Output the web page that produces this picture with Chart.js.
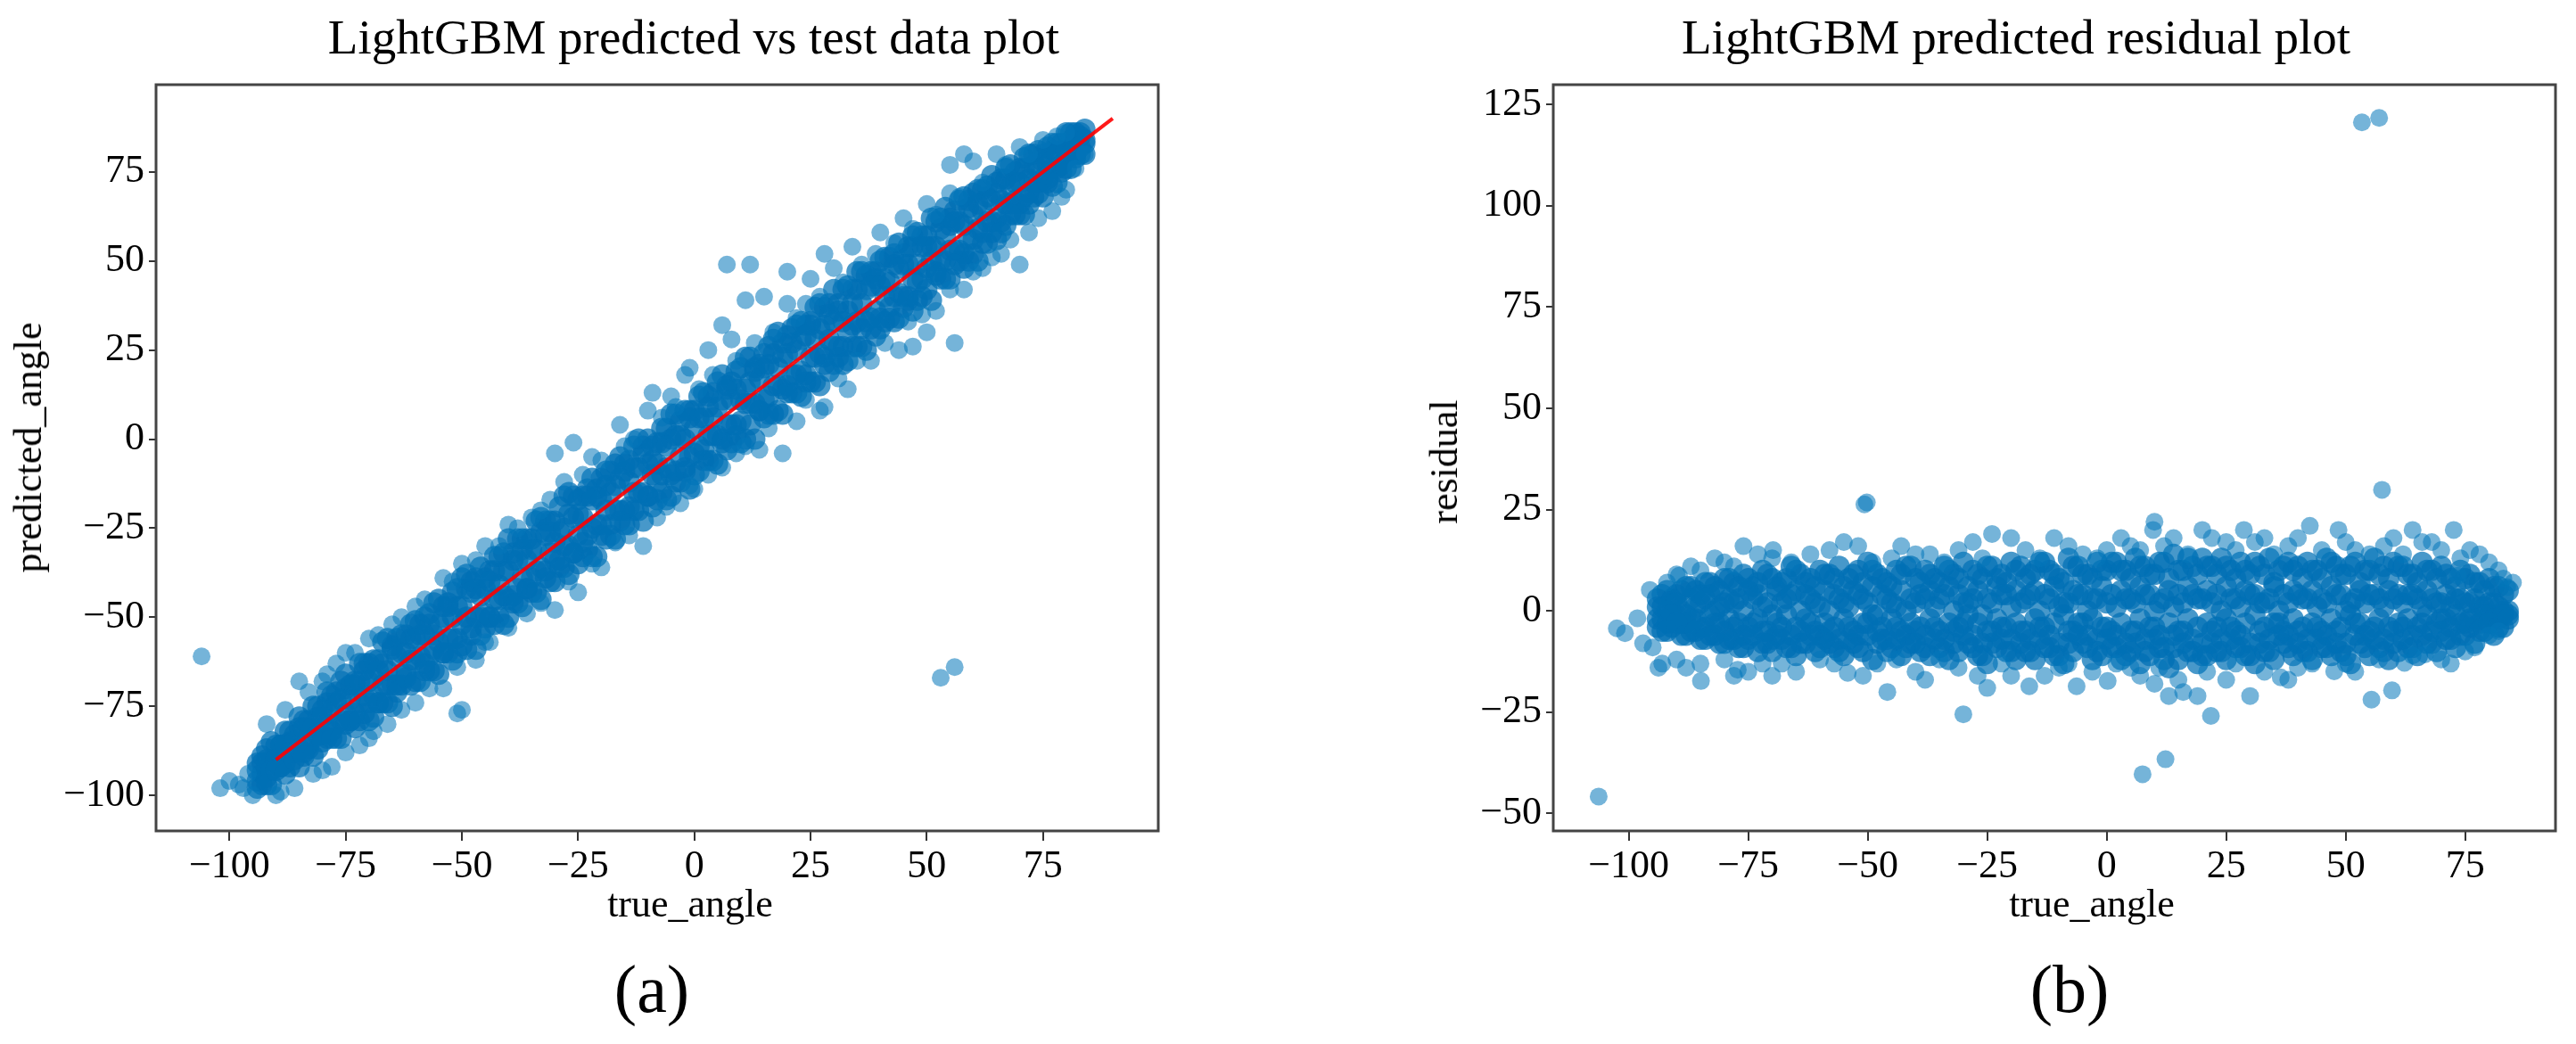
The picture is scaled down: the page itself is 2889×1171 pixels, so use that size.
<!DOCTYPE html>
<html><head><meta charset="utf-8">
<script src="https://cdn.jsdelivr.net/npm/chart.js@4.4.1/dist/chart.umd.min.js"></script>
<style>
html,body{margin:0;padding:0;background:#fff;}
#wrap{position:relative;width:2889px;height:1171px;overflow:hidden;background:#fff;font-family:'Liberation Serif','Times New Roman',serif;color:#000;}
canvas{position:absolute;top:0;}
.t{position:absolute;white-space:nowrap;line-height:1;transform:translateX(-50%);}
.r{position:absolute;white-space:nowrap;line-height:1;transform:translate(-50%,-50%) rotate(-90deg);}
</style></head><body>
<div id="wrap">
<canvas id="ca" width="1440" height="1171" style="left:0;width:1440px;height:1171px"></canvas>
<canvas id="cb" width="1449" height="1171" style="left:1440px;width:1449px;height:1171px"></canvas>
<div class="t" style="left:778px;top:14px;font-size:55px">LightGBM predicted vs test data plot</div>
<div class="t" style="left:2261px;top:14px;font-size:55px">LightGBM predicted residual plot</div>
<div class="t" style="left:774px;top:992px;font-size:44px">true_angle</div>
<div class="t" style="left:2346px;top:992px;font-size:44px">true_angle</div>
<div class="r" style="left:32px;top:502px;font-size:44px">predicted_angle</div>
<div class="r" style="left:1620px;top:518px;font-size:44px">residual</div>
<div class="t" style="left:731px;top:1071px;font-size:76px">(a)</div>
<div class="t" style="left:2321px;top:1071px;font-size:76px">(b)</div>
</div>
<script>
// ---------- shared true-angle grids (core of the dense bands) ----------
const coreTrueEven = [-94,-92,-90,-88,-86,-84,-82,-80,-78,-76,-74,-72,-70,-68,-66,-64,-62,-60,-58,-56,-54,-52,-50,-48,-46,-44,-42,-40,-38,-36,-34,-32,-30,-28,-26,-24,-22,-20,-18,-16,-14,-12,-10,-8,-6,-4,-2,0,2,4,6,8,10,12,14,16,18,20,22,24,26,28,30,32,34,36,38,40,42,44,46,48,50,52,54,56,58,60,62,64,66,68,70,72,74,76,78,80,82,84];
const coreTrueOdd = [-93,-91,-89,-87,-85,-83,-81,-79,-77,-75,-73,-71,-69,-67,-65,-63,-61,-59,-57,-55,-53,-51,-49,-47,-45,-43,-41,-39,-37,-35,-33,-31,-29,-27,-25,-23,-21,-19,-17,-15,-13,-11,-9,-7,-5,-3,-1,1,3,5,7,9,11,13,15,17,19,21,23,25,27,29,31,33,35,37,39,41,43,45,47,49,51,53,55,57,59,61,63,65,67,69,71,73,75,77,79,81,83];

// ---------- (a) predicted vs true ----------
const aPredRow1 = [-98,-97,-93,-94,-90,-89,-89,-85,-84,-84,-79,-79,-79,-74,-74,-71,-67,-68,-65,-65,-60,-62,-58,-55,-55,-50,-50,-50,-46,-42,-43,-39,-40,-36,-32,-33,-33,-27,-27,-23,-24,-20,-16,-17,-17,-12,-9,-10,-6,-6,-1,-1,-1,4,8,7,8,13,13,16,16,21,21,21,26,26,31,31,34,34,39,39,42,46,45,49,48,52,55,58,58,63,63,66,69,72,72,76,79,80];
const aPredRow3 = [-93,-90,-90,-86,-85,-81,-81,-78,-76,-73,-73,-68,-68,-65,-65,-61,-60,-56,-55,-55,-50,-50,-47,-43,-44,-40,-41,-37,-34,-34,-31,-27,-29,-25,-22,-22,-17,-17,-15,-11,-12,-8,-7,-7,-2,1,0,3,6,6,11,11,11,16,17,21,20,24,25,29,28,32,33,33,38,38,43,43,44,48,49,49,54,54,57,61,60,63,64,67,67,71,72,73,76,77,80,81,83,84];
const aPredRow5 = [-96,-95,-91,-91,-88,-88,-84,-83,-82,-79,-79,-74,-74,-74,-69,-69,-66,-62,-63,-59,-60,-56,-52,-53,-50,-50,-45,-45,-42,-42,-37,-37,-34,-30,-32,-29,-25,-24,-24,-20,-19,-15,-16,-12,-8,-9,-8,-4,-3,1,0,4,5,10,8,12,15,15,18,18,23,23,26,26,32,31,34,34,37,41,40,44,48,47,50,53,52,56,58,61,61,66,66,69,72,73,76,79,80,83];
const aPredRow7 = [-91,-87,-86,-82,-83,-79,-75,-76,-72,-68,-69,-63,-63,-62,-56,-56,-55,-51,-50,-46,-47,-43,-39,-40,-36,-37,-33,-28,-28,-28,-23,-23,-23,-16,-16,-16,-11,-11,-9,-5,-6,0,0,-1,3,7,8,8,13,13,18,16,20,23,21,26,30,29,32,32,37,37,42,42,42,47,47,50,51,55,54,58,57,61,65,64,68,69,70,74,73,77,76,80,81,82,83,86,86,87];
const aPredRow2 = [-94,-93,-92,-88,-87,-86,-83,-80,-80,-77,-77,-72,-72,-69,-69,-66,-62,-61,-61,-57,-56,-56,-50,-50,-49,-45,-44,-44,-39,-39,-36,-32,-34,-30,-27,-27,-24,-20,-20,-20,-15,-15,-10,-10,-10,-5,-5,-2,1,1,4,4,10,10,11,15,14,18,19,23,24,28,26,30,33,33,36,40,40,40,45,45,50,50,53,53,56,59,61,62,66,67,68,72,73,76,77,80,82];
const aPredRow4 = [-89,-85,-86,-82,-78,-79,-75,-71,-71,-66,-68,-63,-62,-57,-59,-55,-52,-52,-49,-45,-46,-42,-38,-39,-39,-33,-32,-32,-28,-28,-22,-23,-19,-15,-17,-14,-14,-9,-7,-7,-2,-2,-2,3,7,5,8,12,12,16,15,19,23,20,24,28,27,31,33,33,38,38,38,43,47,46,47,51,52,52,57,57,62,62,62,67,67,70,71,72,76,75,79,80,80,83,83,86,86];
const aPredRow6 = [-91,-90,-86,-85,-81,-81,-78,-74,-74,-70,-69,-65,-67,-63,-58,-60,-56,-55,-52,-52,-47,-47,-42,-42,-42,-37,-37,-34,-31,-31,-26,-26,-26,-21,-21,-16,-16,-13,-13,-9,-8,-4,-6,-1,0,1,6,6,9,9,14,14,14,19,20,24,23,27,28,32,31,35,36,36,42,42,45,45,49,49,54,54,54,59,60,61,65,66,68,69,73,72,76,77,78,81,81,84,85];
const aPredRow8 = [-97,-97,-92,-92,-92,-87,-87,-84,-84,-80,-81,-77,-78,-74,-75,-69,-69,-68,-65,-66,-60,-60,-59,-59,-53,-52,-52,-46,-47,-43,-45,-40,-36,-38,-35,-31,-33,-28,-28,-24,-20,-23,-19,-15,-16,-12,-14,-9,-6,-7,-3,1,0,0,6,7,7,13,12,16,15,19,23,22,26,25,29,33,33,37,36,40,39,45,45,50,50,50,55,56,60,63,63,68,68,71,75,76,80];
const aScatTrue = [-106,53,56,7,12,20,56,58,55,-51,-50,-70,-102,-98,-95,-100,-97,-89,-96,
  -92,-85,-80,-77,-75,-70,-65,-60,-54,-50,-45,-40,-35,-30,-26,-28,-22,-16,-15,-9,-10,-5,-1,-2,3,6,11,8,15,20,25,28,34,30,40,45,50,55,60,65,70,75,80,
  -90,-82,-78,-72,-66,-60,-54,-47,-45,-40,-30,-25,-20,-11,-8,-3,0,6,14,19,22,27,28,33,38,44,47,50,52,58,62,66,70,72,77,80,82,84];
const aScatPred = [-61,-67,-64,49,49,47,27,80,77,-77,-76,-84,-98,-97,-100,-96,-98,-99,-94,
  -80,-68,-68,-63,-60,-56,-52,-47,-39,-35,-30,-24,-22,-4,-1,-12,-5,4,-2,13,8,12,20,18,25,32,39,28,40,38,45,52,54,48,58,62,66,69,78,80,82,84,86,
  -100,-94,-92,-86,-80,-74,-70,-62,-57,-53,-48,-43,-36,-30,-22,-18,-14,-8,-3,-4,5,8,9,14,22,25,26,30,36,42,48,52,49,58,64,70,76,80];
const aHaloTrue = [-88,-83,-79,-73,-68,-63,-58,-52,-47,-42,-38,-33,-31,-24,-20,-13,-7,-4,1,4,9,13,17,22,24,27,32,36,39,43,47,52,57,62,67,72,78,
  -86,-80,-75,-69,-63,-57,-51,-44,-36,-33,-27,-22,-17,-14,-6,-1,3,9,11,16,24,31,35,41,46,49,55,60,64,68,74,79];
const aHaloPred = [-76,-71,-66,-60,-55,-50,-45,-40,-34,-30,-25,-20,-17,-10,-6,0,6,9,14,18,22,27,30,34,38,40,44,49,52,55,59,63,68,72,77,80,85,
  -98,-93,-88,-82,-76,-70,-64,-57,-49,-46,-40,-35,-29,-27,-19,-13,-10,-4,-2,3,11,17,22,27,33,35,42,47,51,56,62,68];
const idealX = [-90, 90];
const idealY = [-90, 90];

// ---------- (b) residual vs true ----------
const bResRow1 = [-4,-5,-3,-6,-5,-7,-6,-8,-7,-9,-6,-8,-10,-7,-9,-8,-6,-9,-8,-10,-7,-9,-6,-8,-10,-7,-9,-8,-9,-7,-10,-8,-6,-9,-11,-8,-7,-10,-8,-10,-7,-9,-11,-8,-6,-9,-10,-7,-9,-11,-8,-10,-7,-12,-9,-8,-10,-11,-8,-10,-7,-9,-11,-8,-10,-6,-9,-8,-10,-7,-9,-8,-11,-6,-9,-7,-10,-8,-7,-9,-6,-8,-5,-7,-6,-4,-5,-3,-4,-2];
const bResRow3 = [1,0,2,-1,1,3,0,2,2,0,3,1,-1,2,4,0,3,1,0,3,1,4,2,-1,3,1,0,2,3,1,4,0,2,3,-1,2,4,1,2,4,0,3,1,2,4,0,3,2,1,3,2,4,0,3,1,2,4,3,2,0,3,1,4,2,3,0,2,4,3,1,2,4,0,3,2,4,1,3,2,4,1,3,2,1,3,2,1,2,1,0];
const bResRow5 = [-2,-3,-1,-3,-2,-4,-3,-5,-4,-6,-3,-5,-7,-4,-6,-5,-3,-6,-5,-7,-4,-6,-3,-5,-7,-4,-6,-5,-6,-4,-7,-5,-3,-6,-8,-5,-4,-7,-5,-7,-4,-6,-8,-5,-3,-6,-7,-4,-6,-8,-5,-7,-4,-9,-6,-5,-7,-8,-5,-7,-4,-6,-8,-5,-7,-3,-6,-5,-7,-4,-6,-5,-8,-3,-6,-4,-7,-5,-4,-6,-3,-5,-2,-4,-3,-2,-3,-1,-2,-1];
const bResRow7 = [3,5,4,6,5,7,6,8,7,9,6,10,8,7,11,9,8,10,9,11,8,10,12,9,7,10,11,8,10,8,11,9,12,10,8,11,9,12,11,9,12,10,8,13,11,9,12,10,12,10,13,11,9,12,14,10,11,13,11,13,10,12,9,11,13,10,12,11,12,10,13,11,9,12,10,13,11,12,11,9,12,10,11,8,10,9,7,8,6,5];
const bResRow2 = [-2,-1,-3,-2,-4,-1,-3,-2,-3,-4,-2,-5,-3,-1,-4,-2,-5,-3,-4,-2,-5,-3,-1,-4,-2,-5,-3,-4,-2,-5,-3,-4,-1,-3,-5,-2,-4,-3,-5,-2,-4,-3,-1,-5,-3,-2,-4,-5,-3,-5,-2,-4,-6,-3,-5,-2,-4,-3,-4,-2,-5,-3,-1,-4,-3,-5,-2,-4,-3,-5,-2,-4,-1,-3,-5,-2,-4,-3,-2,-4,-1,-3,-2,-1,-3,-2,-1,-2,-1];
const bResRow4 = [4,3,5,6,4,7,5,8,6,8,7,9,5,8,10,7,6,9,8,6,9,7,10,8,6,9,11,7,9,7,10,8,6,9,11,8,7,10,8,10,12,9,7,11,9,8,10,12,10,8,11,9,12,8,10,13,9,11,9,11,8,10,12,9,7,11,10,8,10,8,12,9,11,7,10,9,8,11,9,7,10,8,9,6,8,7,5,6,4];
const bResRow6 = [1,2,0,3,2,4,1,3,3,5,4,2,6,3,5,4,2,5,4,2,5,3,6,4,2,5,3,4,5,3,6,4,2,5,3,6,4,5,3,5,4,6,2,5,4,3,6,4,5,3,6,4,2,5,4,6,3,5,4,6,3,5,4,2,6,4,5,3,5,3,6,4,2,5,4,3,5,4,4,3,5,2,4,3,2,3,1,2,0];
const bResRow8 = [-5,-4,-6,-5,-7,-6,-8,-7,-9,-7,-10,-8,-6,-9,-11,-8,-10,-7,-9,-11,-8,-10,-12,-7,-9,-11,-8,-10,-11,-9,-12,-10,-8,-11,-13,-9,-10,-12,-10,-12,-9,-11,-13,-10,-8,-12,-11,-9,-12,-10,-13,-11,-9,-14,-12,-10,-13,-11,-10,-12,-9,-11,-13,-10,-12,-8,-11,-10,-12,-9,-11,-10,-13,-8,-11,-9,-12,-10,-9,-11,-8,-10,-7,-9,-6,-8,-5,-6,-4];
const bScatTrue = [53.4,57,-106.3,7.5,12.3,-50.7,-50.2,57.6,-30,21.8,55.4,59.7,-45.9,-84.9,-102.5,-98.2,-100.8,-95.6,-97,-93,
  -90,-89.5,-85,-80,-76,-69.8,-70,-62,-55,-52,-45,-40,-34,-28,-24,-20,-11,-5,0,5,9.7,10,14,20,25,28.7,33,38,42.5,48.5,52,60,64,68,72.6,73.5,76,80,83,83.8,85,
  -93.8,-88,-80,-77.2,-75,-70,-68,-60,-54.2,-48,-40,-35,-25,-20,-16.2,-10,-6.3,0.2,5,10,13,16,19,25,30,36.4,40,47.6,50,62.3,66.6,70,75,80];
const bScatRes = [120.6,121.7,-45.8,-40.3,-36.6,26.3,26.8,29.9,-25.5,-25.9,-21.9,-19.6,-20,-17.3,-4.3,-1.8,-5.5,5.2,-8,-13,
  9,8.7,10,12,16,15,13,14,17,16,13,14,12,17,19,18,18,14,15,16,20,22,18,20,17,20,18,16,21,20,15,18,20,17,20,8.7,15,12,8,5.9,7,
  -14,-14,-12,-14.5,-15,-16,-13,-12,-15.3,-13,-15,-12,-19,-16,-18.6,-14,-18.6,-17.3,-14,-18,-21,-20,-21,-17,-21,-16.4,-14,-14.9,-13,-12.8,-10.7,-12,-10,-6];
const bHaloTrue = [-92,-87,-82,-78,-73,-66,-58,-49,-43,-37,-31,-26,-17,-14,-8,-2,3,7,12,17,22,27,31,35,40,45,50,55,58,62,66,70,74,78,82,
  -95,-90,-85,-78,-72,-65,-57,-51,-44,-38,-31,-27,-22,-13,-8,-3,2,7,11,15,21,27,33,38,43,52,57,64,72,77,82];
const bHaloRes = [7,11,13,11,14,12,15,12,16,14,15,13,15,13,16,13,18,15,16,14,18,15,17,14,18,15,17,14,16,14,17,15,13,14,10,
  -9,-12,-13,-16,-13,-15,-13,-16,-12,-17,-14,-16,-13,-16,-13,-15,-13,-16,-14,-17,-15,-13,-15,-17,-13,-15,-12,-11,-13,-9,-5];

// ---------- axis tick settings ----------
const tickStep = 25;
const rangeA = {x: [-115.8, 99.8], y: [-110, 99.5]};
const rangeB = {x: [-115.8, 93.9], y: [-54.3, 129.9]};

Chart.defaults.font.family = "'Liberation Serif','Times New Roman',serif";
Chart.defaults.color = '#000';

const dotColor = 'rgba(3,118,186,0.55)';
const coreColor = 'rgba(0,112,182,0.72)';
function pts(xs, ys) { return xs.map((x, i) => ({x: x, y: ys[i]})); }
function dots(data) {
  return {type: 'scatter', data: data, backgroundColor: dotColor, borderWidth: 0,
          pointRadius: 10, pointHoverRadius: 10, order: 1};
}
function core(data) {
  return {type: 'scatter', data: data, backgroundColor: coreColor, borderWidth: 0,
          pointRadius: 12, pointHoverRadius: 12, order: 2};
}
const fmt = v => (v < 0 ? '\u2212' + Math.abs(v) : String(v));
const framePlugin = {
  id: 'frame',
  afterDatasetsDraw(chart) {
    const {ctx, chartArea: a} = chart;
    ctx.save();
    ctx.strokeStyle = '#444';
    ctx.lineWidth = 3;
    ctx.strokeRect(a.left, a.top, a.right - a.left, a.bottom - a.top);
    ctx.restore();
  }
};

function makeChart(id, datasets, range, padLeft, padRight) {
  return new Chart(document.getElementById(id), {
    type: 'scatter',
    data: {datasets: datasets},
    options: {
      responsive: false, animation: false, devicePixelRatio: 1, events: [],
      layout: {padding: {left: padLeft, right: padRight, top: 95, bottom: 179}},
      plugins: {legend: {display: false}, tooltip: {enabled: false}, title: {display: false}},
      scales: {
        x: {
          type: 'linear', min: range.x[0], max: range.x[1],
          afterFit(s) { s.height = 60; },
          ticks: {stepSize: tickStep, includeBounds: false, padding: 3, font: {size: 44},
                  callback: fmt, maxRotation: 0, autoSkip: false, color: '#000'},
          grid: {drawOnChartArea: false, drawTicks: true, tickLength: 11, color: '#333', lineWidth: 2},
          border: {display: false}
        },
        y: {
          type: 'linear', min: range.y[0], max: range.y[1],
          afterFit(s) { s.width = 175; },
          ticks: {stepSize: tickStep, includeBounds: false, padding: 5, font: {size: 44},
                  callback: fmt, autoSkip: false, color: '#000'},
          grid: {drawOnChartArea: false, drawTicks: true, tickLength: 8, color: '#333', lineWidth: 2},
          border: {display: false}
        }
      }
    },
    plugins: [framePlugin]
  });
}

makeChart('ca', [
  {type: 'line', data: pts(idealX, idealY), borderColor: 'rgba(255,0,0,0.9)', borderWidth: 4,
   pointRadius: 0, fill: false, showLine: true, order: 0},
  core(pts(coreTrueEven, aPredRow1)),
  core(pts(coreTrueOdd, aPredRow2)),
  core(pts(coreTrueEven, aPredRow3)),
  core(pts(coreTrueOdd, aPredRow4)),
  core(pts(coreTrueEven, aPredRow5)),
  core(pts(coreTrueOdd, aPredRow6)),
  core(pts(coreTrueEven, aPredRow7)),
  core(pts(coreTrueOdd, aPredRow8)),
  dots(pts(aHaloTrue, aHaloPred)),
  dots(pts(aScatTrue, aScatPred))
], rangeA, 0, 141);

makeChart('cb', [
  core(pts(coreTrueEven, bResRow1)),
  core(pts(coreTrueOdd, bResRow2)),
  core(pts(coreTrueEven, bResRow3)),
  core(pts(coreTrueOdd, bResRow4)),
  core(pts(coreTrueEven, bResRow5)),
  core(pts(coreTrueOdd, bResRow6)),
  core(pts(coreTrueEven, bResRow7)),
  core(pts(coreTrueOdd, bResRow8)),
  dots(pts(bHaloTrue, bHaloRes)),
  dots(pts(bScatTrue, bScatRes))
], rangeB, 127, 23);
</script>
</body></html>
